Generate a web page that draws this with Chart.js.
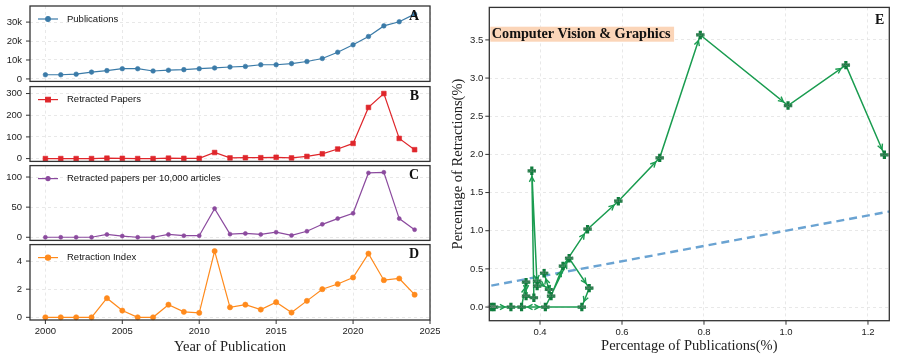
<!DOCTYPE html>
<html><head><meta charset="utf-8">
<script src="https://cdn.jsdelivr.net/npm/chart.js@4.4.1/dist/chart.umd.min.js"></script>
<style>
html,body{margin:0;padding:0;background:#fff;}
#wrap{position:relative;width:897px;height:361px;overflow:hidden;background:#fff;}
canvas{position:absolute;}
</style></head><body>
<div id="wrap">
<canvas id="cA" width="440" height="86" style="left:0;top:0;width:440px;height:86px"></canvas>
<canvas id="cB" width="440" height="84" style="left:0;top:82px;width:440px;height:84px"></canvas>
<canvas id="cC" width="440" height="84" style="left:0;top:161px;width:440px;height:84px"></canvas>
<canvas id="cD" width="440" height="121" style="left:0;top:240px;width:440px;height:121px"></canvas>
<canvas id="cE" width="457" height="361" style="left:440px;top:0;width:457px;height:361px"></canvas>
</div>
<script>
// ---- data ----
const years = [2000,2001,2002,2003,2004,2005,2006,2007,2008,2009,2010,2011,2012,2013,2014,2015,2016,2017,2018,2019,2020,2021,2022,2023,2024];
const publications = [2200,2200,2500,3600,4400,5400,5400,4200,4600,4900,5400,5800,6300,6600,7500,7500,8100,9200,10800,14100,18000,22400,28000,30200,34200];
const retractedPapers = [0,0,0,0,2,1,0,0,2,1,1,28,3,4,4,6,3,10,22,44,70,236,300,93,41];
const retractedPer10k = [0,0,0,0,4.7,2.0,0,0,4.7,2.6,2.6,47.6,5.2,6.3,4.7,8.4,3.1,10.0,21.5,31.0,39.8,106.8,107.9,31.0,12.6];
const retractionIndex = [0,0,0,0,1.36,0.48,0,0,0.90,0.39,0.32,4.71,0.71,0.90,0.55,1.08,0.34,1.17,2.00,2.37,2.83,4.53,2.64,2.76,1.61];
const pubShare = [0.282,0.288,0.329,0.413,0.471,0.520,0.502,0.355,0.366,0.366,0.385,0.380,0.393,0.393,0.422,0.410,0.427,0.456,0.516,0.591,0.692,0.791,1.005,1.146,1.240];
const retShare = [0,0,0,0,0.639,0.248,0,0,0.326,0.143,0.122,1.785,0.274,0.339,0.230,0.443,0.143,0.537,1.020,1.387,1.955,3.565,2.640,3.170,1.995];
const refLineX = [0.25, 1.30];
const yearTicks = [2000,2005,2010,2015,2020,2025];
const pubTicks = [0,10000,20000,30000];
const retTicks = [0,100,200,300];
const perTicks = [0,50,100];
const idxTicks = [0,2,4];
const eXTicks = [0.4,0.6,0.8,1.0,1.2];
const eYTicks = [0,0.5,1.0,1.5,2.0,2.5,3.0,3.5];
const fieldName = 'Computer Vision & Graphics';

Chart.defaults.font.family = "'Liberation Sans', Arial, sans-serif";
Chart.defaults.color = '#222';

const GRID = {color:'#e2e2e2', lineWidth:0.8, drawTicks:false};
const BORDER = {display:false, dash:[3,3]};
function noPad(s){ s.paddingTop = 0; s.paddingBottom = 0; s.paddingLeft = 0; s.paddingRight = 0; }

const framePlugin = {
  id:'frame',
  afterDraw(chart, args, opts){
    const {ctx, chartArea:a} = chart;
    ctx.save();
    ctx.strokeStyle = '#333'; ctx.lineWidth = 1.3;
    ctx.strokeRect(a.left, a.top, a.right-a.left, a.bottom-a.top);
    ctx.lineWidth = 1;
    const ys = chart.scales.y;
    ys.ticks.forEach(t=>{ const p = ys.getPixelForValue(t.value); ctx.beginPath(); ctx.moveTo(a.left-4,p); ctx.lineTo(a.left,p); ctx.stroke(); });
    if (opts.xTicks){
      const xs = chart.scales.x;
      xs.ticks.forEach(t=>{ const p = xs.getPixelForValue(t.value); ctx.beginPath(); ctx.moveTo(p,a.bottom); ctx.lineTo(p,a.bottom+4); ctx.stroke(); });
    }
    if (opts.legend){
      const ds = chart.data.datasets[0];
      const ly = a.top + 13;
      ctx.strokeStyle = ds.borderColor; ctx.lineWidth = ds.borderWidth;
      ctx.beginPath(); ctx.moveTo(38,ly); ctx.lineTo(58,ly); ctx.stroke();
      ctx.fillStyle = ds.pointBackgroundColor; ctx.strokeStyle = ds.pointBorderColor;
      Chart.helpers.drawPoint(ctx, {pointStyle:ds.pointStyle, radius:ds.pointRadius, borderWidth:ds.pointBorderWidth, rotation:0}, 48, ly);
      ctx.fillStyle = '#111'; ctx.font = "9.5px 'Liberation Sans', Arial, sans-serif";
      ctx.textBaseline = 'middle'; ctx.textAlign = 'left';
      ctx.fillText(ds.label, 67, ly);
    }
    if (opts.letter){
      ctx.fillStyle = '#111'; ctx.font = "bold 14px 'Liberation Serif', 'Times New Roman', serif";
      ctx.textAlign = 'right'; ctx.textBaseline = 'middle';
      ctx.fillText(opts.letter, a.right - opts.letterDx, a.top + opts.letterDy);
    }
    ctx.restore();
  }
};

function leftChart(id, label, values, color, style, radius, yMin, yMax, yTicks, yFmt, letter, padTop, padBottom, isBottom){
  return new Chart(document.getElementById(id), {
    type:'line',
    data:{ datasets:[{
      label, data: years.map((y,i)=>({x:y, y:values[i]})),
      borderColor:color, backgroundColor:color, borderWidth:1.2,
      pointStyle:style, pointRadius:radius, pointBackgroundColor:color, pointBorderColor:color, pointBorderWidth:0.6,
      tension:0, clip:false
    }]},
    options:{
      responsive:false, animation:false, events:[],
      layout:{padding:{left:0,right:10,top:padTop,bottom:padBottom}},
      plugins:{legend:{display:false}, tooltip:{enabled:false}, frame:{legend:true, letter, letterDx:11, letterDy:10, xTicks:isBottom}},
      scales:{
        x:{type:'linear', min:1999, max:2025, grid:GRID, border:BORDER,
           afterBuildTicks:s=>{ s.ticks = yearTicks.map(v=>({value:v})); },
           afterFit:s=>{ s.height = isBottom ? 41 : 0; noPad(s); },
           ticks:{display:isBottom, padding:6, font:{size:9.5}, color:'#222', maxRotation:0, callback:v=>String(v)},
           title:{display:isBottom, text:'Year of Publication', font:{family:"'Liberation Serif', 'Times New Roman', serif", size:14.5}, color:'#222', padding:{top:0,bottom:5.6}}
        },
        y:{type:'linear', min:yMin, max:yMax, grid:GRID, border:BORDER,
           afterBuildTicks:s=>{ s.ticks = yTicks.map(v=>({value:v})); },
           afterFit:s=>{ s.width = 30; noPad(s); },
           ticks:{padding:8, font:{size:9.5}, color:'#222', callback:yFmt}
        }
      }
    },
    plugins:[framePlugin]
  });
}

leftChart('cA','Publications',publications,'#3b7ba8','circle',2.3,-1300,38500,pubTicks,v=>v===0?'0':(v/1000)+'k','A',6,1.7,false);
leftChart('cB','Retracted Papers',retractedPapers,'#df262b','rect',3.3,-13,332,retTicks,v=>String(v),'B',2.3,2.7,false);
leftChart('cC','Retracted papers per 10,000 articles',retractedPer10k,'#8b4a9e','circle',2,-5.2,119,perTicks,v=>String(v),'C',2.3,2.7,false);
leftChart('cD','Retraction Index',retractionIndex,'#ff8a1c','circle',2.6,-0.19,5.17,idxTicks,v=>String(v),'D',2.3,0,true);

// ---- Panel E ----
const GREEN = '#1a9c50';
const arrowPlugin = {
  id:'arrows',
  afterDatasetsDraw(chart){
    const {ctx} = chart;
    const pts = chart.getDatasetMeta(0).data;
    ctx.save();
    ctx.strokeStyle = GREEN; ctx.lineWidth = 1.4;
    for (let i=0;i<pts.length-1;i++){
      const a = pts[i], b = pts[i+1];
      const dx = b.x-a.x, dy = b.y-a.y, L = Math.hypot(dx,dy);
      if (L < 10) continue;
      const ux = dx/L, uy = dy/L;
      const tx = b.x - ux*6, ty = b.y - uy*6;
      const hl = 5, hw = 2.6;
      const bx = tx - ux*hl, by = ty - uy*hl;
      ctx.beginPath();
      ctx.moveTo(bx - uy*hw, by + ux*hw); ctx.lineTo(tx,ty); ctx.lineTo(bx + uy*hw, by - ux*hw);
      ctx.stroke();
    }
    // year labels
    ctx.fillStyle = 'rgba(140,140,140,0.9)';
    ctx.font = "4px 'Liberation Sans', Arial, sans-serif";
    ctx.textAlign = 'center'; ctx.textBaseline = 'middle';
    pts.forEach((p,i)=>ctx.fillText(String(years[i]), p.x, p.y));
    // field label
    const a = chart.chartArea;
    ctx.font = "bold 14.2px 'Liberation Serif', 'Times New Roman', serif";
    const w = ctx.measureText(fieldName).width;
    ctx.fillStyle = '#fbd5b8';
    ctx.fillRect(a.left+1, 26.7, w+5, 15);
    ctx.fillStyle = '#111'; ctx.textAlign = 'left';
    ctx.fillText(fieldName, a.left+2.5, 34.5);
    ctx.restore();
  }
};

new Chart(document.getElementById('cE'), {
  type:'scatter',
  data:{ datasets:[
    { label:fieldName, data: years.map((y,i)=>({x:pubShare[i], y:retShare[i]})),
      showLine:true, borderColor:GREEN, borderWidth:1.5, tension:0,
      pointStyle:'cross', pointRadius:4.2, pointBorderWidth:3.2, pointBorderColor:'#0f7d3d', pointBackgroundColor:'#0f7d3d' },
    { label:'y = x', data: refLineX.map(v=>({x:v, y:v})),
      showLine:true, borderColor:'#6aa3d2', borderWidth:2.4, borderDash:[8,5], pointRadius:0 }
  ]},
  options:{
    responsive:false, animation:false, events:[],
    layout:{padding:{left:0,right:7.7,top:6,bottom:0}},
    plugins:{legend:{display:false}, tooltip:{enabled:false}, frame:{legend:false, letter:'E', letterDx:5, letterDy:13, xTicks:true}},
    scales:{
      x:{type:'linear', min:0.2763, max:1.252, grid:GRID, border:BORDER,
         afterBuildTicks:s=>{ s.ticks = eXTicks.map(v=>({value:v})); },
         afterFit:s=>{ s.height = 40.3; noPad(s); },
         ticks:{padding:6, font:{size:9.5}, color:'#222', maxRotation:0, callback:v=>v.toFixed(1)},
         title:{display:true, text:'Percentage of Publications(%)', font:{family:"'Liberation Serif', 'Times New Roman', serif", size:14.5}, color:'#222', padding:{top:0,bottom:6.3}}
      },
      y:{type:'linear', min:-0.179, max:3.926, grid:GRID, border:BORDER,
         afterBuildTicks:s=>{ s.ticks = eYTicks.map(v=>({value:v})); },
         afterFit:s=>{ s.width = 49.3; noPad(s); },
         ticks:{padding:6, font:{size:9.5}, color:'#222', callback:v=>v.toFixed(1)},
         title:{display:true, text:'Percentage of Retractions(%)', font:{family:"'Liberation Serif', 'Times New Roman', serif", size:14.5}, color:'#222', padding:{top:9.3,bottom:0}}
      }
    }
  },
  plugins:[framePlugin, arrowPlugin]
});
</script>
</body></html>
